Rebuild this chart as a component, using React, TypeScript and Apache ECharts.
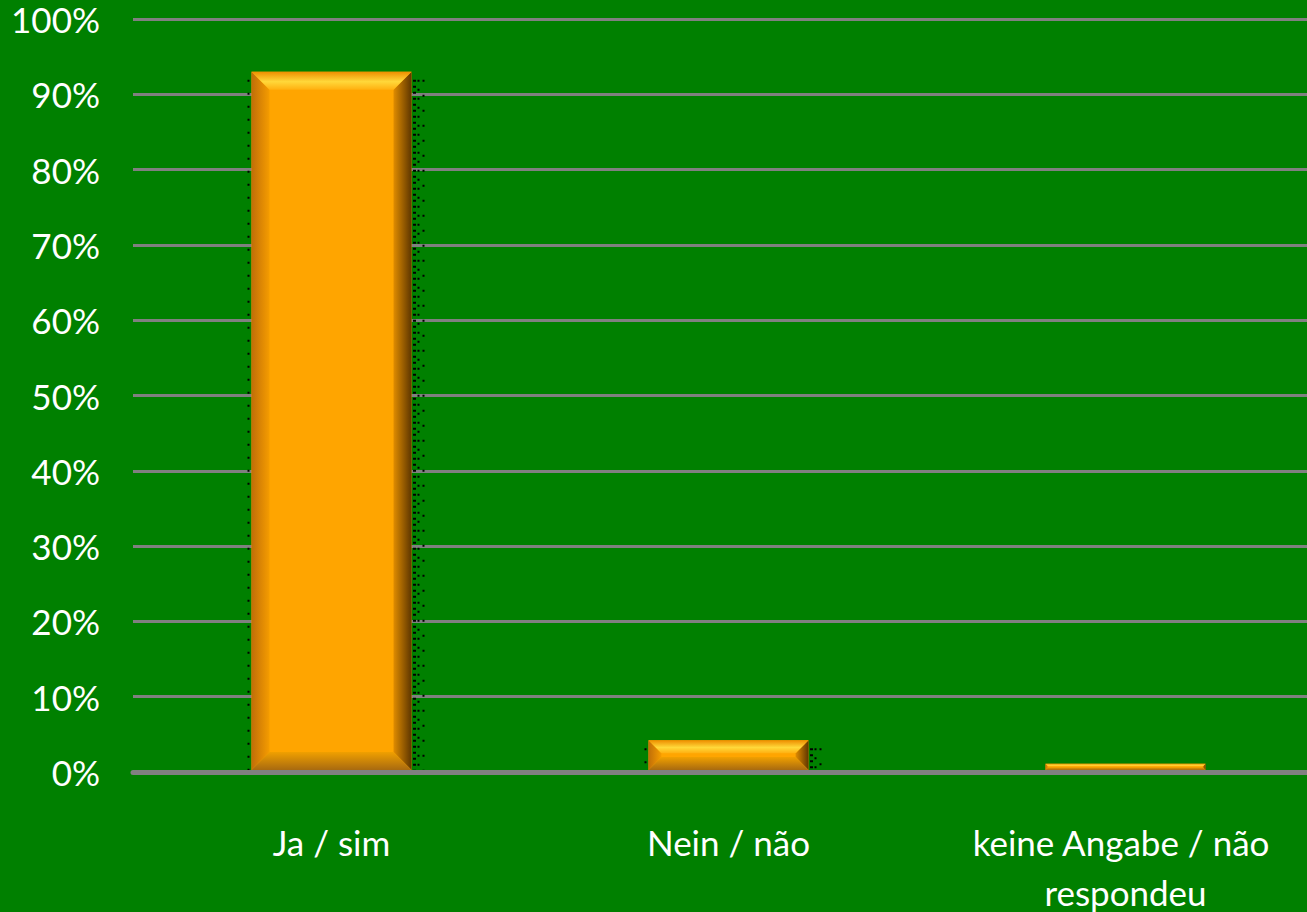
import React, { useEffect, useRef } from "react";
import * as echarts from "echarts";

const categories = ["Ja / sim", "Nein / não", "keine Angabe / não respondeu"];
const values = [93, 4.2, 1.1];
const yTicks = [0, 10, 20, 30, 40, 50, 60, 70, 80, 90, 100];

const FONT = "Lato, 'Open Sans', sans-serif";

export default function App() {
  const ref = useRef<HTMLDivElement>(null);
  useEffect(() => {
    document.body.style.margin = "0";
    const chart = echarts.init(ref.current!, undefined, { renderer: "svg" });
    const LG = echarts.graphic.LinearGradient;
    chart.setOption({
      animation: false,
      backgroundColor: "#008000",
      grid: {
        left: 133,
        right: -17,
        top: 19,
        bottom: 140,
        containLabel: false,
        outerBoundsMode: "none",
      },
      xAxis: {
        type: "category",
        data: categories,
        axisTick: { show: false },
        axisLine: { show: true, lineStyle: { color: "#808080", width: 5 } },
        axisLabel: {
          color: "#ffffff",
          fontFamily: FONT,
          fontSize: 35,
          margin: 45,
          lineHeight: 50,
          width: 390,
          overflow: "break",
          interval: 0,
        },
        splitLine: { show: false },
      },
      yAxis: {
        type: "value",
        min: yTicks[0],
        max: yTicks[yTicks.length - 1],
        interval: 10,
        axisLine: { show: false },
        axisTick: { show: false },
        axisLabel: {
          color: "#ffffff",
          fontFamily: FONT,
          fontSize: 35,
          margin: 33,
          padding: [8, 0, 0, 0],
          formatter: (v: number) => `${v}%`,
        },
        splitLine: { show: true, lineStyle: { color: "#808080", width: 3 } },
      },
      series: [
        {
          type: "custom",
          data: values.map((v, i) => [i, v]),
          encode: { x: 0, y: 1 },
          renderItem: (params: any, api: any) => {
            const idx = api.value(0);
            const v = api.value(1);
            const top = api.coord([idx, v]);
            const base = api.coord([idx, 0]);
            const bw = 160;
            const x0 = top[0] - bw / 2;
            const x1 = top[0] + bw / 2;
            const y0 = top[1];
            const y1 = base[1] - 2;
            const h = y1 - y0;
            const b = Math.min(18, h / 2.3);
            const children: any[] = [];
            const dash = (x: number, gap: number, w: number) => ({
              type: "line",
              shape: { x1: x, y1: y0 + 8, x2: x, y2: y1 },
              style: { stroke: "#000000", lineWidth: w, lineDash: [2, gap] },
            });
            if (h > 20) {
              children.push(dash(x0 - 3, 11, 2));
              children.push(dash(x1 + 3, 4, 3));
              children.push(dash(x1 + 7, 7, 2));
              children.push(dash(x1 + 12, 13, 2));
            }
            children.push({
              type: "rect",
              shape: { x: x0, y: y0, width: bw, height: h },
              style: { fill: "#FFA500" },
            });
            children.push({
              type: "polygon",
              shape: { points: [[x0, y0], [x0 + b, y0 + b], [x0 + b, y1 - b], [x0, y1]] },
              style: {
                fill: new LG(0, 0, 1, 0, [
                  { offset: 0, color: "#C06E08" },
                  { offset: 1, color: "#F59C00" },
                ]),
              },
            });
            children.push({
              type: "polygon",
              shape: { points: [[x1, y0], [x1 - b, y0 + b], [x1 - b, y1 - b], [x1, y1]] },
              style: {
                fill: new LG(0, 0, 1, 0, [
                  { offset: 0, color: "#E08C00" },
                  { offset: 1, color: "#5E3600" },
                ]),
              },
            });
            children.push({
              type: "polygon",
              shape: { points: [[x0, y0], [x1, y0], [x1 - b, y0 + b], [x0 + b, y0 + b]] },
              style: {
                fill: new LG(0, 0, 0, 1, [
                  { offset: 0, color: "#EE8E00" },
                  { offset: 0.55, color: "#FFD83A" },
                  { offset: 1, color: "#FFB010" },
                ]),
              },
            });
            children.push({
              type: "polygon",
              shape: { points: [[x0, y1], [x1, y1], [x1 - b, y1 - b], [x0 + b, y1 - b]] },
              style: {
                fill: new LG(0, 0, 0, 1, [
                  { offset: 0, color: "#F0A000" },
                  { offset: 1, color: "#A86A10" },
                ]),
              },
            });
            return { type: "group", children };
          },
          z: 3,
        },
      ],
    });
    return () => chart.dispose();
  }, []);
  return (
    <div
      ref={ref}
      style={{ position: "fixed", left: 0, top: 0, width: 1307, height: 912 }}
    />
  );
}
